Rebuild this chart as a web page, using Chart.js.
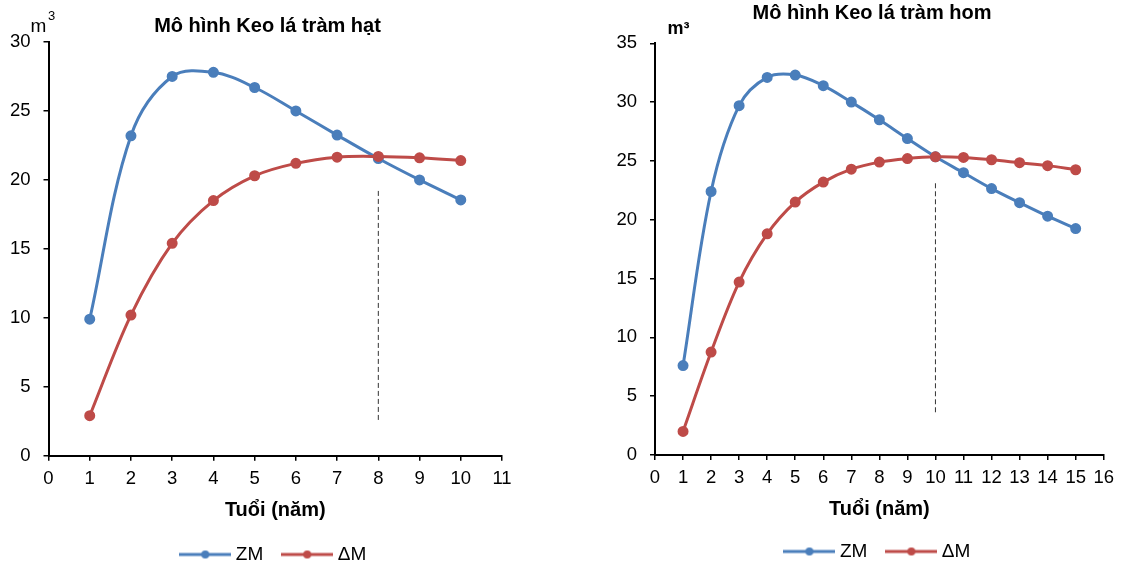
<!DOCTYPE html>
<html>
<head>
<meta charset="utf-8">
<script src="https://cdn.jsdelivr.net/npm/chart.js@4.4.1/dist/chart.umd.min.js"></script>
<style>
body { margin: 0; background: #fff; }
#wrap { position: relative; width: 1121px; height: 565px; }
canvas { position: absolute; top: 0; }
</style>
</head>
<body>
<div id="wrap">
  <canvas id="hat" width="560" height="565" style="left:0"></canvas>
  <canvas id="hom" width="561" height="565" style="left:560px"></canvas>
</div>
<script>
// Mô hình Keo lá tràm hạt
var ages_hat = [1, 2, 3, 4, 5, 6, 7, 8, 9, 10];
var zm_hat = [9.9, 23.2, 27.5, 27.8, 26.7, 25.0, 23.25, 21.55, 20.0, 18.55];
var dm_hat = [2.9, 10.2, 15.4, 18.5, 20.3, 21.2, 21.65, 21.7, 21.6, 21.4];
var cut_hat = [{x: 8, y: 19.2}, {x: 8, y: 2.5}];

// Mô hình Keo lá tràm hom
var ages_hom = [1, 2, 3, 4, 5, 6, 7, 8, 9, 10, 11, 12, 13, 14, 15];
var zm_hom = [7.6, 22.4, 29.7, 32.1, 32.3, 31.4, 30.0, 28.5, 26.9, 25.35, 24.0, 22.65, 21.45, 20.3, 19.25];
var dm_hom = [2.0, 8.75, 14.7, 18.8, 21.5, 23.2, 24.3, 24.9, 25.2, 25.35, 25.3, 25.1, 24.85, 24.6, 24.25];
var cut_hom = [{x: 10, y: 23.1}, {x: 10, y: 3.6}];

var seriesNames = ['ZM', '\u0394M'];
var xTitle = 'Tuổi (năm)';

var BLUE = '#4A7EBB', RED = '#BE4B48';
var FONT = '"Liberation Sans", Arial, sans-serif';

Chart.defaults.font.family = FONT;
Chart.defaults.color = '#000';

// legend swatch: line with a dot in the middle, like excel
function legendIcon(color) {
  var c = document.createElement('canvas');
  c.width = 52; c.height = 10;
  var g = c.getContext('2d');
  g.strokeStyle = color; g.lineWidth = 3;
  g.beginPath(); g.moveTo(0, 5); g.lineTo(52, 5); g.stroke();
  g.fillStyle = color;
  g.beginPath(); g.arc(26, 5, 4, 0, Math.PI * 2); g.fill();
  return c;
}

var textPlugin = {
  id: 'extraText',
  afterDraw: function(chart, args, opts) {
    var ctx = chart.ctx;
    ctx.save();
    ctx.fillStyle = '#000';
    ctx.textBaseline = 'alphabetic';
    (opts.items || []).forEach(function(t) {
      ctx.font = t.font;
      ctx.textAlign = t.align || 'left';
      ctx.fillText(t.text, t.x, t.y);
    });
    ctx.restore();
  }
};

function pts(xs, ys) {
  return xs.map(function(a, i) { return {x: a, y: ys[i]}; });
}

function makeChart(id, o) {
  var icons = [legendIcon(BLUE), legendIcon(RED)];
  var axisGrid = {drawOnChartArea: false, color: '#000', lineWidth: 1.5, tickLength: 5};
  var axisBorder = {color: '#000', width: 2};
  return new Chart(document.getElementById(id), {
    type: 'line',
    data: {
      datasets: [
        {label: seriesNames[0], data: pts(o.ages, o.zm), borderColor: BLUE, backgroundColor: BLUE,
         borderWidth: 3, pointRadius: 4, tension: 0.35, order: 1},
        {label: seriesNames[1], data: pts(o.ages, o.dm), borderColor: RED, backgroundColor: RED,
         borderWidth: 3, pointRadius: 4, tension: 0.35, order: 0},
        {label: 'cut', data: o.cut, borderColor: '#333', borderWidth: 1, borderDash: [5, 3],
         pointRadius: 0, tension: 0, order: 2}
      ]
    },
    options: {
      responsive: false,
      animation: false,
      events: [],
      layout: {padding: o.pad},
      plugins: {
        legend: {
          position: 'bottom',
          fullSize: false,
          labels: {
            usePointStyle: true, pointStyleWidth: 42, padding: 23,
            font: {size: 19}, color: '#000',
            generateLabels: function(chart) {
              return [0, 1].map(function(i) {
                var ds = chart.data.datasets[i];
                return {text: ds.label, pointStyle: icons[i], fillStyle: ds.borderColor,
                        strokeStyle: ds.borderColor, lineWidth: 0, hidden: false,
                        datasetIndex: i, fontColor: '#000'};
              });
            }
          }
        },
        tooltip: {enabled: false},
        extraText: {items: o.texts}
      },
      scales: {
        x: {
          type: 'linear', min: 0, max: o.xMax,
          ticks: {stepSize: 1, autoSkip: false, maxRotation: 0, padding: 7, font: {size: 18.5}},
          grid: axisGrid, border: axisBorder,
          title: {display: true, text: xTitle, font: {size: 20, weight: 'bold', lineHeight: 1},
                  padding: {top: 0, bottom: o.xTitlePad}},
          afterFit: function(s) { s.height = o.xH; }
        },
        y: {
          min: 0, max: o.yMax,
          ticks: {stepSize: 5, padding: 13, font: {size: 18.5}},
          grid: axisGrid, border: axisBorder,
          afterFit: function(s) { s.width = o.yW; }
        }
      }
    },
    plugins: [textPlugin]
  });
}

makeChart('hat', {
  ages: ages_hat, zm: zm_hat, dm: dm_hat, cut: cut_hat,
  xMax: 11, yMax: 30,
  pad: {top: 42, left: 0, right: 58, bottom: -9},
  xH: 66.3, xTitlePad: 1.5, yW: 48.5,
  texts: [
    {text: 'Mô hình Keo lá tràm hạt', x: 267.5, y: 31.7, font: 'bold 20px ' + FONT, align: 'center'},
    {text: 'm', x: 30.5, y: 31.7, font: '19px ' + FONT},
    {text: '3', x: 48, y: 19.5, font: '13px ' + FONT}
  ]
});

makeChart('hom', {
  ages: ages_hom, zm: zm_hom, dm: dm_hom, cut: cut_hom,
  xMax: 16, yMax: 35,
  pad: {top: 43.3, left: 47, right: 16, bottom: -6},
  xH: 64, xTitlePad: -0.5, yW: 48,
  texts: [
    {text: 'Mô hình Keo lá tràm hom', x: 312, y: 19.3, font: 'bold 20px ' + FONT, align: 'center'},
    {text: 'm³', x: 107.5, y: 34.3, font: 'bold 18px ' + FONT}
  ]
});
</script>
</body>
</html>
